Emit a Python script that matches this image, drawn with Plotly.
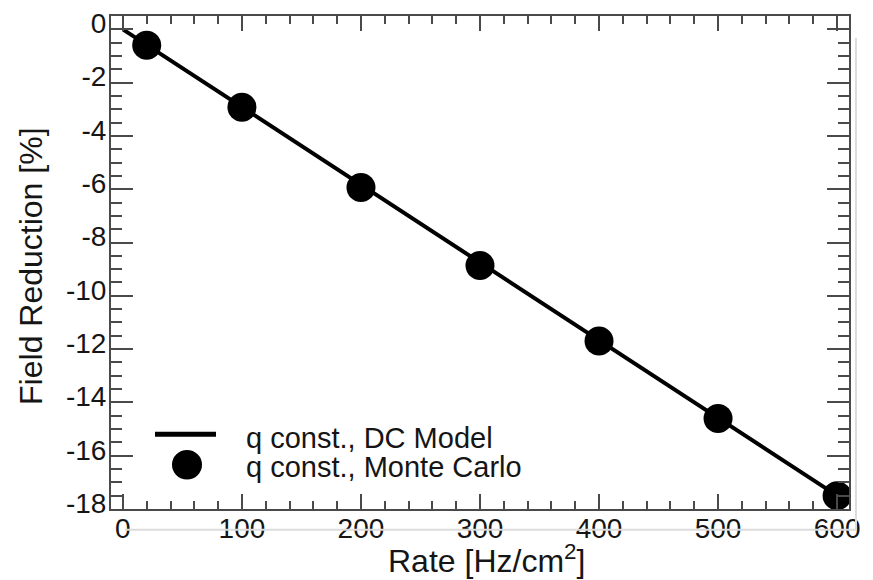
import plotly.graph_objects as go

# Data
model_rate = [0, 100, 200, 300, 400, 500, 600]
model_reduction = [0.0, -2.92, -5.84, -8.76, -11.68, -14.6, -17.5]

mc_rate = [20, 100, 200, 300, 400, 500, 600]
mc_reduction = [-0.6, -2.92, -5.94, -8.86, -11.7, -14.6, -17.5]

x_tickvals = [0, 100, 200, 300, 400, 500, 600]
x_ticktext = ["0", "100", "200", "300", "400", "500", "600"]
y_tickvals = [0, -2, -4, -6, -8, -10, -12, -14, -16, -18]
y_ticktext = ["0", "-2", "-4", "-6", "-8", "-10", "-12", "-14", "-16", "-18"]

legend_labels = ["q const., DC Model", "q const., Monte Carlo"]
x_title = "Rate [Hz/cm<sup>2</sup>]"
y_title = "Field Reduction [%]"

FONT = "Liberation Sans, Arial, Helvetica, sans-serif"
AX = "#4a4a4a"
TXT = "#151515"

fig = go.Figure()
fig.add_trace(go.Scatter(x=model_rate, y=model_reduction, mode="lines",
                         line=dict(color="black", width=4), name=legend_labels[0],
                         showlegend=False))
fig.add_trace(go.Scatter(x=mc_rate, y=mc_reduction, mode="markers",
                         marker=dict(color="black", size=29), name=legend_labels[1],
                         showlegend=False))

W, H = 873, 580
L, R, T, B = 111, 24, 8, 71
pw, ph = W - L - R, H - T - B

def px(x):
    return (x - L) / pw

def py(y):
    return (H - B - y) / ph

shapes = [
    # light shadow of the frame
    dict(type="line", xref="paper", yref="paper", x0=px(856), x1=px(856), y0=py(30), y1=py(530),
         line=dict(color="#dcdcdc", width=2)),
    dict(type="line", xref="paper", yref="paper", x0=px(125), x1=px(856), y0=py(530), y1=py(530),
         line=dict(color="#dcdcdc", width=2)),
    # legend glyphs
    dict(type="line", xref="paper", yref="paper", x0=px(155), x1=px(216), y0=py(433), y1=py(433),
         line=dict(color="black", width=5)),
    dict(type="circle", xref="paper", yref="paper", x0=px(172), x1=px(202), y0=py(479), y1=py(449),
         fillcolor="black", line=dict(color="black", width=0)),
]

annotations = [
    dict(text=legend_labels[0], xref="paper", yref="paper", x=px(244), y=py(437),
         xanchor="left", yanchor="middle", showarrow=False, font=dict(size=29, color=TXT, family=FONT)),
    dict(text=legend_labels[1], xref="paper", yref="paper", x=px(244), y=py(466),
         xanchor="left", yanchor="middle", showarrow=False, font=dict(size=29, color=TXT, family=FONT)),
    dict(text=x_title, xref="paper", yref="paper", x=px(486), y=py(560),
         xanchor="center", yanchor="middle", showarrow=False, font=dict(size=32, color=TXT, family=FONT)),
    dict(text=y_title, xref="paper", yref="paper", x=px(31), y=py(263), textangle=-90,
         xanchor="center", yanchor="middle", showarrow=False, font=dict(size=32, color=TXT, family=FONT)),
]

fig.update_layout(
    width=W, height=H,
    margin=dict(l=L, r=R, t=T, b=B),
    paper_bgcolor="white", plot_bgcolor="white",
    font=dict(family=FONT, color=TXT),
    shapes=shapes, annotations=annotations,
    showlegend=False,
)
fig.update_xaxes(
    range=[-10, 610], tickmode="array", tickvals=x_tickvals, ticktext=x_ticktext,
    ticks="inside", ticklen=15, tickwidth=2, tickcolor=AX,
    minor=dict(tick0=0, dtick=20, ticks="inside", ticklen=8, tickwidth=2, tickcolor=AX),
    showline=True, linecolor=AX, linewidth=2, mirror="allticks",
    showgrid=False, zeroline=False,
    tickfont=dict(size=28, color=TXT, family=FONT),
    ticklabelstandoff=-7,
)
fig.update_yaxes(
    range=[-18, 0.5], tickmode="array", tickvals=y_tickvals, ticktext=y_ticktext,
    ticks="inside", ticklen=22, tickwidth=2, tickcolor=AX,
    minor=dict(tick0=0, dtick=0.5, ticks="inside", ticklen=11, tickwidth=2, tickcolor=AX),
    showline=True, linecolor=AX, linewidth=2, mirror="allticks",
    showgrid=False, zeroline=False,
    tickfont=dict(size=28, color=TXT, family=FONT),
    ticklabelshift=-6, ticklabelstandoff=-3,
)

fig.write_html("out.html", config={"displayModeBar": False},
               post_script="document.body.style.margin='0';document.body.style.padding='0';")
